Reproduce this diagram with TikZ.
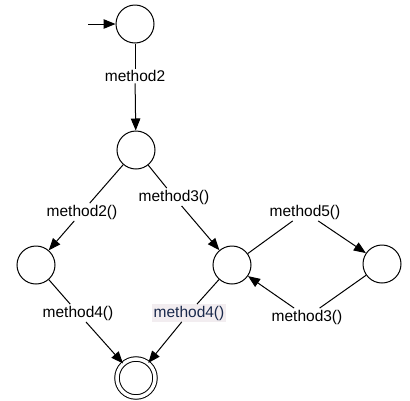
\documentclass[tikz,border=0pt]{standalone}
\usepackage{fontspec}
\setmainfont{Liberation Sans}
\usetikzlibrary{arrows.meta}
\definecolor{hlbg}{rgb}{0.95,0.93,0.94}
\definecolor{hltext}{rgb}{0.10,0.16,0.30}
\begin{document}
\begin{tikzpicture}[x=1pt,y=-1pt,
  state/.style={draw,circle,line width=1pt,minimum size=38pt,inner sep=0pt},
  final/.style={draw,circle,double,double distance=3.5pt,line width=1pt,minimum size=38pt,inner sep=0pt},
  lbl/.style={fill=white,inner sep=1.5pt,font=\fontsize{15.5}{18}\selectfont},
  edge/.style={line width=1pt},
  arr/.style={line width=1pt,-{Triangle[length=12pt,width=9.5pt]}}]
\useasboundingbox (0,0) rectangle (410,400);
\node[state] (s0) at (135,24) {};
\node[state] (s1) at (136,150) {};
\node[state] (s2) at (36,265) {};
\node[state] (s3) at (232,265) {};
\node[state] (s4) at (382,264) {};
\node[final] (sf) at (136,378) {};
\coordinate (init) at (88,24);
\node[lbl] (l1) at (135,76) {method2};
\node[lbl] (l2) at (82,212) {method2()};
\node[lbl] (l3) at (174,197) {method3()};
\node[lbl] (l5) at (305,212) {method5()};
\node[lbl] (l4a) at (78,313) {method4()};
\node[lbl,fill=hlbg,text=hltext] (l4b) at (189,313) {method4()};
\node[lbl] (l3b) at (307,317) {method3()};
\draw[arr] (init) -- (s0);
\draw[edge] (s0) -- (l1);
\draw[arr] (l1) -- (s1);
\draw[edge] (s1) -- (l2);
\draw[arr] (l2) -- (s2);
\draw[edge] (s1) -- (l3);
\draw[arr] (l3) -- (s3);
\draw[edge] (s3) -- (l5);
\draw[arr] (l5) -- (s4);
\draw[edge] (s4) -- (l3b);
\draw[arr] (l3b) -- (s3);
\draw[edge] (s2) -- (l4a);
\draw[arr] (l4a) -- (sf);
\draw[edge] (s3) -- (l4b);
\draw[arr] (l4b) -- (sf);
\end{tikzpicture}
\end{document}
